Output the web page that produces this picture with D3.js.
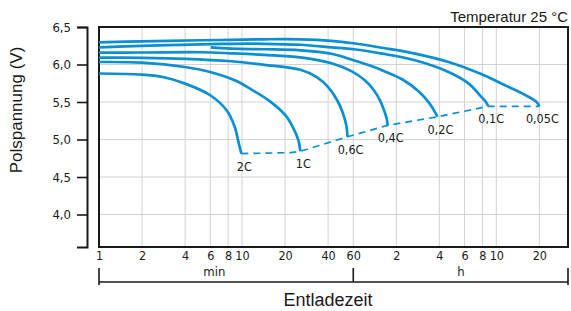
<!DOCTYPE html>
<html>
<head>
<meta charset="utf-8">
<script src="https://cdn.jsdelivr.net/npm/d3@7"></script>
<style>
  body { margin: 0; background: #fff; }
  svg text { fill: #1a1a1a; }
  .cond { font-family: 'DejaVu Sans Condensed', 'DejaVu Sans', sans-serif; font-stretch: condensed; }
  .title { font-family: 'Liberation Sans', Arial, sans-serif; }
</style>
</head>
<body>
<svg id="chart" width="571" height="311"></svg>
<script>
// discharge time in minutes, terminal voltage in V
const rates = ["2C", "1C", "0,6C", "0,4C", "0,2C", "0,1C", "0,05C"];

const curve2C  = [[1,5.88],[2,5.865],[2.8,5.833],[4,5.745],[6,5.59],[7.8,5.39],[8.9,5.167],[9.5,4.945],[9.9,4.812]];
const curve1C  = [[1,6.033],[2,6.025],[4,5.967],[6,5.90],[8.9,5.789],[11.6,5.669],[15.7,5.509],[20.1,5.324],[22.9,5.149],[24.8,4.989],[25.6,4.843]];
const curve06C = [[1,6.092],[2,6.089],[4,6.076],[8.4,6.043],[14.3,5.996],[25.6,5.929],[33.5,5.829],[40.2,5.696],[46.3,5.523],[50.5,5.363],[53.6,5.189],[54.7,5.036]];
const curve04C = [[1,6.159],[2,6.16],[5.2,6.163],[8.4,6.149],[14.3,6.129],[25.6,6.096],[42.2,6.016],[58.6,5.909],[72.3,5.789],[83.6,5.656],[92.2,5.523],[98.5,5.389],[102.6,5.283],[104.4,5.189]];
const curve02C = [[6.05,6.229],[8.4,6.212],[14.3,6.203],[25.6,6.189],[42.2,6.143],[60.3,6.056],[81,5.976],[95.3,5.923],[131.7,5.803],[171.4,5.643],[205.4,5.479],[228.2,5.336],[232.4,5.303]];
const curve01C = [[1,6.229],[2,6.249],[5.2,6.269],[8.4,6.276],[14.3,6.276],[25.6,6.263],[42.2,6.229],[60.3,6.203],[95.3,6.145],[162,6.056],[278,5.90],[385,5.745],[461,5.589],[508,5.50],[527,5.443]];
const curve005C = [[1,6.296],[2,6.309],[5.2,6.323],[8.4,6.329],[14.3,6.336],[25.6,6.336],[42.2,6.316],[60.3,6.283],[95.3,6.223],[162,6.145],[278,6.033],[461,5.879],[690,5.723],[916,5.612],[1149,5.50],[1200,5.443]];

// end-of-discharge voltage (dashed)
const endLine = [[9.9,4.812],[22,4.825],[25.6,4.843],[54.7,5.036],[104.4,5.189],[232.4,5.303],[527,5.443],[1200,5.443]];

const yTicks = [4.0, 4.5, 5.0, 5.5, 6.0, 6.5];
const xTicks = [1, 2, 4, 6, 8, 10, 20, 40, 60, 120, 240, 360, 480, 600, 1200];

const curves = [curve2C, curve1C, curve06C, curve04C, curve02C, curve01C, curve005C];

const svg = d3.select("#chart");
const blue = "#0b8fd3";
const ink = "#1a1a1a";

const x = d3.scaleLog().domain([1, 1904]).range([99, 568]);
const y = d3.scaleLinear().domain([6.5 - 220 / 75, 6.5]).range([247, 27]);

const [plotLeft, plotRight] = x.range();
const [plotBottom, plotTop] = y.range();

// grid
svg.append("g")
  .selectAll("line")
  .data(yTicks.filter(d => d < 6.5))
  .join("line")
    .attr("x1", plotLeft).attr("x2", plotRight)
    .attr("y1", d => y(d)).attr("y2", d => y(d))
    .attr("stroke", "#d2d2d2").attr("stroke-width", 1);

svg.append("g")
  .selectAll("line")
  .data(xTicks.filter(d => d > 1))
  .join("line")
    .attr("x1", d => x(d)).attr("x2", d => x(d))
    .attr("y1", plotTop).attr("y2", plotBottom)
    .attr("stroke", "#d2d2d2").attr("stroke-width", 1);

// frame
svg.append("rect")
  .attr("x", plotLeft).attr("y", plotTop)
  .attr("width", plotRight - plotLeft).attr("height", plotBottom - plotTop)
  .attr("fill", "none").attr("stroke", ink).attr("stroke-width", 2);

// y axis, detached from the frame
const yAxis = svg.append("g")
  .attr("transform", "translate(87,0)")
  .call(d3.axisLeft(y)
    .tickValues(yTicks)
    .tickSize(10)
    .tickSizeOuter(10)
    .tickPadding(6)
    .tickFormat(d => d.toFixed(1).replace(".", ",")));
yAxis.select(".domain").attr("stroke", ink).attr("stroke-width", 2);
yAxis.selectAll(".tick line").attr("stroke", ink).attr("stroke-width", 1.6);
yAxis.selectAll("text").attr("class", "cond").attr("font-size", 13).attr("fill", ink);

// x axis labels only
const xAxis = svg.append("g")
  .attr("transform", `translate(0,${plotBottom})`)
  .call(d3.axisBottom(x)
    .tickValues(xTicks)
    .tickSize(0)
    .tickPadding(4)
    .tickFormat(d => d <= 60 ? d : d / 60));
xAxis.select(".domain").remove();
xAxis.selectAll("text").attr("class", "cond").attr("font-size", 12.5).attr("fill", ink);

svg.append("text").attr("class", "cond")
  .attr("x", x(6.4)).attr("y", 276)
  .attr("text-anchor", "middle").attr("font-size", 13)
  .text("min");
svg.append("text").attr("class", "cond")
  .attr("x", x(340)).attr("y", 276)
  .attr("text-anchor", "middle").attr("font-size", 13)
  .text("h");

// min / h bracket
svg.append("path")
  .attr("d", `M${plotLeft},268V285M${plotLeft},282H${plotRight}M${x(60)},268V282M${plotRight},268V285`)
  .attr("fill", "none").attr("stroke", ink).attr("stroke-width", 1.6);

// titles
svg.append("text").attr("class", "title")
  .attr("x", 328).attr("y", 306)
  .attr("text-anchor", "middle").attr("font-size", 18)
  .text("Entladezeit");

svg.append("text").attr("class", "title")
  .attr("transform", "translate(21.5,110) rotate(-90)")
  .attr("text-anchor", "middle").attr("font-size", 17)
  .text("Polspannung (V)");

svg.append("text").attr("class", "title")
  .attr("x", plotRight).attr("y", 21.5)
  .attr("text-anchor", "end").attr("font-size", 15)
  .text("Temperatur 25 °C");

// curves
const line = d3.line()
  .x(d => x(d[0]))
  .y(d => y(d[1]))
  .curve(d3.curveCatmullRom.alpha(0.5));

svg.append("path")
  .attr("d", d3.line().x(d => x(d[0])).y(d => y(d[1]))(endLine))
  .attr("fill", "none").attr("stroke", blue)
  .attr("stroke-width", 1.7).attr("stroke-dasharray", "7,5");

svg.append("g")
  .selectAll("path")
  .data(curves)
  .join("path")
    .attr("d", line)
    .attr("fill", "none")
    .attr("stroke", blue)
    .attr("stroke-width", 2.7);

svg.append("g")
  .selectAll("text")
  .data(curves)
  .join("text")
    .attr("class", "cond")
    .attr("x", d => x(d[d.length - 1][0]) + 3)
    .attr("y", d => y(d[d.length - 1][1]) + 17)
    .attr("text-anchor", "middle")
    .attr("font-size", 12.5)
    .text((d, i) => rates[i]);
</script>
</body>
</html>
